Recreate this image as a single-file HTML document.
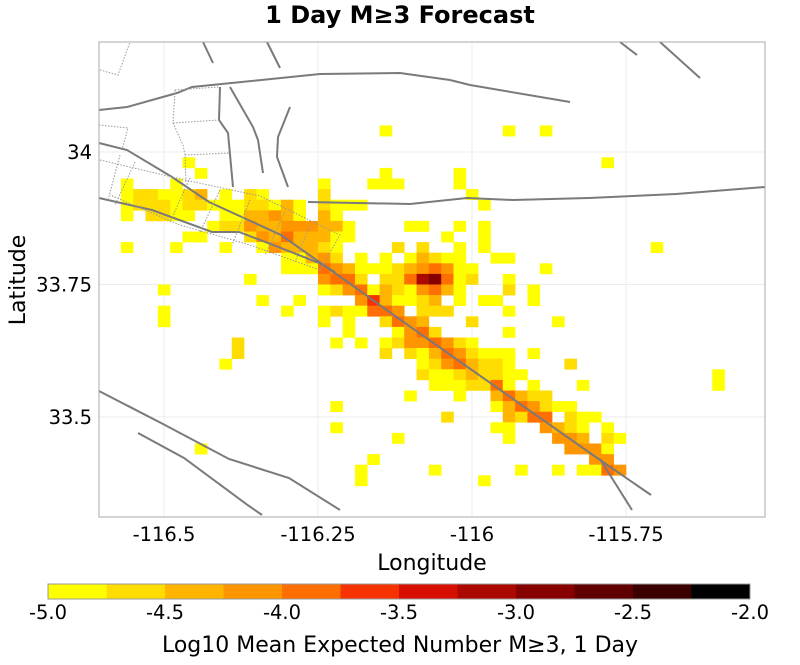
<!DOCTYPE html>
<html><head><meta charset="utf-8"><style>
body{margin:0;background:#fff;}
svg{display:block;font-family:"Liberation Sans","DejaVu Sans",sans-serif;}
</style></head><body>
<svg id="chart" width="800" height="665" viewBox="0 0 800 665">
<text x="400" y="23" text-anchor="middle" font-size="24" font-weight="bold" font-family="DejaVu Sans, sans-serif">1 Day M≥3 Forecast</text>
<g id="grid"></g>
<g id="cells"></g>
<g id="faults" fill="none" stroke="#7a7a7a" stroke-width="2"></g>
<rect x="99" y="42" width="666" height="475" fill="none" stroke="#aaa" stroke-width="1"/>
<g id="xticks"></g>
<g id="yticks"></g>
<text x="432" y="570" text-anchor="middle" font-size="22" font-family="DejaVu Sans, sans-serif">Longitude</text>
<text x="0" y="0" transform="translate(25,280) rotate(-90)" text-anchor="middle" font-size="22" font-family="DejaVu Sans, sans-serif">Latitude</text>
<g id="legend"></g>
<text x="400" y="652" text-anchor="middle" font-size="22" font-family="DejaVu Sans, sans-serif">Log10 Mean Expected Number M≥3, 1 Day</text>
</svg>
<script>
const xTicks = [-116.5, -116.25, -116, -115.75];
const xTickLabels = ["-116.5", "-116.25", "-116", "-115.75"];
const yTicks = [34, 33.75, 33.5];
const yTickLabels = ["34", "33.75", "33.5"];
const colorBins = [-5.0,-4.75,-4.5,-4.25,-4.0,-3.75,-3.5,-3.25,-3.0,-2.75,-2.5,-2.25,-2.0];
const colorBinLabels = ["-5.0","-4.5","-4.0","-3.5","-3.0","-2.5","-2.0"];
const colorBinLabelValues = [-5.0,-4.5,-4.0,-3.5,-3.0,-2.5,-2.0];
const binColors = ["#ffff00","#ffdd00","#ffb400","#ff9600","#ff6e00","#f53200","#d60f00","#ab0800","#860000","#600000","#3a0000","#000000"];
// cell centers (lon, lat) and log10 values
const cellLons = [
-116.14,-115.94,-115.88,
-116.46,-115.78,
-116.44,-116.14,-116.02,
-116.56,-116.48,-116.24,-116.16,-116.14,-116.12,-116.02,
-116.56,-116.54,-116.52,-116.50,-116.48,-116.46,-116.44,-116.40,-116.36,-116.34,-116.24,-116.00,
-116.56,-116.54,-116.52,-116.50,-116.48,-116.46,-116.44,-116.42,-116.40,-116.38,-116.36,-116.34,-116.32,-116.30,-116.28,-116.24,-116.22,-116.20,-116.18,-115.98,
-116.56,-116.52,-116.50,-116.48,-116.46,-116.40,-116.38,-116.36,-116.34,-116.32,-116.30,-116.28,-116.24,-116.22,
-116.42,-116.40,-116.38,-116.36,-116.34,-116.32,-116.30,-116.28,-116.26,-116.24,-116.22,-116.20,-116.10,-116.08,-116.02,-115.98,
-116.46,-116.44,-116.36,-116.34,-116.32,-116.30,-116.28,-116.26,-116.24,-116.22,-116.20,-116.04,-115.98,
-116.56,-116.48,-116.40,-116.34,-116.32,-116.30,-116.28,-116.26,-116.24,-116.22,-116.12,-116.08,-116.02,-115.98,-115.70,
-116.30,-116.28,-116.26,-116.24,-116.22,-116.18,-116.14,-116.10,-116.08,-116.06,-116.04,-116.02,-115.96,-115.94,
-116.30,-116.28,-116.26,-116.24,-116.22,-116.20,-116.18,-116.16,-116.14,-116.12,-116.10,-116.08,-116.06,-116.04,-116.02,-116.00,-115.88,
-116.36,-116.24,-116.22,-116.20,-116.18,-116.14,-116.12,-116.10,-116.08,-116.06,-116.04,-116.02,-116.00,-115.94,
-116.50,-116.24,-116.22,-116.20,-116.18,-116.16,-116.14,-116.12,-116.10,-116.08,-116.06,-116.04,-116.02,-115.94,-115.90,
-116.34,-116.28,-116.18,-116.16,-116.14,-116.12,-116.10,-116.08,-116.06,-116.02,-115.98,-115.96,-115.90,
-116.50,-116.30,-116.24,-116.22,-116.20,-116.18,-116.16,-116.14,-116.12,-116.08,-116.06,-116.04,-115.94,
-116.50,-116.24,-116.20,-116.14,-116.12,-116.10,-116.08,-116.00,-115.86,
-116.20,-116.12,-116.10,-116.08,-116.06,-115.94,
-116.38,-116.22,-116.18,-116.14,-116.12,-116.10,-116.08,-116.06,-116.04,-116.02,-116.00,
-116.38,-116.14,-116.10,-116.08,-116.06,-116.04,-116.02,-116.00,-115.98,-115.96,-115.94,-115.90,
-116.40,-116.08,-116.06,-116.04,-116.02,-116.00,-115.98,-115.96,-115.94,-115.84,
-116.08,-116.06,-116.04,-116.02,-116.00,-115.98,-115.96,-115.94,-115.92,-115.60,
-116.06,-116.04,-116.02,-116.00,-115.98,-115.96,-115.94,-115.90,-115.82,-115.60,
-116.10,-116.02,-115.96,-115.94,-115.92,-115.90,-115.88,
-116.22,-115.96,-115.94,-115.92,-115.90,-115.88,-115.86,-115.84,
-116.04,-115.94,-115.92,-115.90,-115.88,-115.84,-115.82,-115.80,
-116.22,-115.96,-115.94,-115.88,-115.86,-115.84,-115.82,-115.78,
-116.12,-115.94,-115.86,-115.84,-115.82,-115.78,-115.76,
-116.44,-115.84,-115.82,-115.80,-115.78,
-116.16,-115.80,-115.78,
-116.18,-116.06,-115.92,-115.86,-115.82,-115.80,-115.78,-115.76,
-116.18,-115.98
];
const cellLats = [
34.04,34.04,34.04,
33.98,33.98,
33.96,33.96,33.96,
33.94,33.94,33.94,33.94,33.94,33.94,33.94,
33.92,33.92,33.92,33.92,33.92,33.92,33.92,33.92,33.92,33.92,33.92,33.92,
33.90,33.90,33.90,33.90,33.90,33.90,33.90,33.90,33.90,33.90,33.90,33.90,33.90,33.90,33.90,33.90,33.90,33.90,33.90,33.90,
33.88,33.88,33.88,33.88,33.88,33.88,33.88,33.88,33.88,33.88,33.88,33.88,33.88,33.88,
33.86,33.86,33.86,33.86,33.86,33.86,33.86,33.86,33.86,33.86,33.86,33.86,33.86,33.86,33.86,33.86,
33.84,33.84,33.84,33.84,33.84,33.84,33.84,33.84,33.84,33.84,33.84,33.84,33.84,
33.82,33.82,33.82,33.82,33.82,33.82,33.82,33.82,33.82,33.82,33.82,33.82,33.82,33.82,33.82,
33.80,33.80,33.80,33.80,33.80,33.80,33.80,33.80,33.80,33.80,33.80,33.80,33.80,33.80,
33.78,33.78,33.78,33.78,33.78,33.78,33.78,33.78,33.78,33.78,33.78,33.78,33.78,33.78,33.78,33.78,33.78,
33.76,33.76,33.76,33.76,33.76,33.76,33.76,33.76,33.76,33.76,33.76,33.76,33.76,33.76,
33.74,33.74,33.74,33.74,33.74,33.74,33.74,33.74,33.74,33.74,33.74,33.74,33.74,33.74,33.74,
33.72,33.72,33.72,33.72,33.72,33.72,33.72,33.72,33.72,33.72,33.72,33.72,33.72,
33.70,33.70,33.70,33.70,33.70,33.70,33.70,33.70,33.70,33.70,33.70,33.70,33.70,
33.68,33.68,33.68,33.68,33.68,33.68,33.68,33.68,33.68,
33.66,33.66,33.66,33.66,33.66,33.66,
33.64,33.64,33.64,33.64,33.64,33.64,33.64,33.64,33.64,33.64,33.64,
33.62,33.62,33.62,33.62,33.62,33.62,33.62,33.62,33.62,33.62,33.62,33.62,
33.60,33.60,33.60,33.60,33.60,33.60,33.60,33.60,33.60,33.60,
33.58,33.58,33.58,33.58,33.58,33.58,33.58,33.58,33.58,33.58,
33.56,33.56,33.56,33.56,33.56,33.56,33.56,33.56,33.56,33.56,
33.54,33.54,33.54,33.54,33.54,33.54,33.54,
33.52,33.52,33.52,33.52,33.52,33.52,33.52,33.52,
33.50,33.50,33.50,33.50,33.50,33.50,33.50,33.50,
33.48,33.48,33.48,33.48,33.48,33.48,33.48,33.48,
33.46,33.46,33.46,33.46,33.46,33.46,33.46,
33.44,33.44,33.44,33.44,33.44,
33.42,33.42,33.42,
33.40,33.40,33.40,33.40,33.40,33.40,33.40,33.40,
33.38,33.38
];
const cellValues = [
-4.9,-4.9,-4.9,
-4.9,-4.9,
-4.9,-4.9,-4.9,
-4.9,-4.9,-4.9,-4.9,-4.9,-4.9,-4.9,
-4.9,-4.6,-4.6,-4.9,-4.9,-4.6,-4.4,-4.9,-4.6,-4.9,-4.6,-4.9,
-4.9,-4.6,-4.6,-4.6,-4.9,-4.6,-4.6,-4.9,-4.9,-4.9,-4.6,-4.6,-4.9,-4.4,-4.9,-4.6,-4.9,-4.9,-4.9,-4.9,
-4.9,-4.6,-4.6,-4.9,-4.9,-4.9,-4.9,-4.4,-4.4,-4.1,-4.4,-4.9,-4.4,-4.9,
-4.9,-4.6,-4.6,-4.1,-4.4,-4.4,-4.1,-4.1,-4.1,-4.4,-4.4,-4.9,-4.9,-4.9,-4.9,-4.9,
-4.9,-4.9,-4.6,-4.1,-4.4,-3.9,-4.4,-4.4,-4.4,-4.9,-4.9,-4.9,-4.9,
-4.9,-4.9,-4.9,-4.9,-4.1,-4.4,-4.4,-4.4,-4.6,-4.9,-4.6,-4.6,-4.9,-4.9,-4.9,
-4.9,-4.9,-4.4,-4.1,-4.6,-4.9,-4.9,-4.9,-4.4,-4.6,-4.9,-4.9,-4.9,-4.9,
-4.9,-4.9,-4.9,-3.9,-4.1,-4.4,-4.9,-4.9,-4.9,-4.6,-4.4,-4.1,-3.9,-4.1,-4.9,-4.9,-4.9,
-4.9,-4.1,-3.9,-3.9,-4.6,-4.6,-4.6,-3.9,-3.1,-2.9,-3.9,-4.9,-4.6,-4.9,
-4.9,-4.9,-4.6,-4.1,-3.9,-4.9,-4.4,-4.6,-4.9,-4.1,-3.9,-4.4,-4.9,-4.6,-4.9,
-4.9,-4.9,-4.1,-3.6,-4.4,-4.9,-4.9,-4.6,-4.4,-4.9,-4.9,-4.9,-4.9,
-4.9,-4.9,-4.9,-4.6,-4.9,-4.9,-3.9,-3.9,-4.1,-4.6,-4.6,-4.6,-4.9,
-4.9,-4.9,-4.9,-4.6,-3.9,-4.1,-4.4,-4.6,-4.9,
-4.9,-4.9,-4.1,-3.9,-4.6,-4.9,
-4.6,-4.9,-4.9,-4.9,-4.6,-4.1,-4.1,-3.9,-4.1,-4.6,-4.9,
-4.6,-4.6,-4.6,-4.9,-4.4,-3.9,-4.1,-4.6,-4.9,-4.9,-4.9,-4.9,
-4.9,-4.9,-4.6,-4.1,-3.9,-4.4,-4.6,-4.6,-4.9,-4.6,
-4.6,-4.9,-4.9,-4.6,-4.4,-4.6,-4.6,-4.9,-4.9,-4.9,
-4.9,-4.9,-4.9,-4.6,-4.6,-3.9,-4.9,-4.9,-4.9,-4.9,
-4.9,-4.9,-4.4,-3.9,-4.4,-4.6,-4.6,
-4.9,-4.9,-4.4,-3.9,-4.1,-4.6,-4.9,-4.9,
-4.6,-4.4,-4.6,-3.9,-3.9,-4.6,-4.9,-4.9,
-4.9,-4.9,-4.9,-4.1,-4.4,-4.6,-4.9,-4.9,
-4.9,-4.9,-4.1,-4.1,-4.4,-4.6,-4.9,
-4.9,-4.1,-4.1,-4.1,-4.9,
-4.9,-4.1,-4.1,
-4.9,-4.9,-4.9,-4.9,-4.9,-4.9,-3.9,-4.1,
-4.9,-4.9
];

const NS = "http://www.w3.org/2000/svg";
const X0 = 472, PXLON = 616, Y0 = 152, PXLAT = 530;
function xScale(lon){ return X0 + (lon + 116) * PXLON; }
function yScale(lat){ return Y0 - (lat - 34) * PXLAT; }
function colorFor(v){
  for(let i=0;i<binColors.length;i++){ if(v < colorBins[i+1]) return binColors[i]; }
  return binColors[binColors.length-1];
}
function mk(tag, attrs, parent){
  const e = document.createElementNS(NS, tag);
  for(const k in attrs) e.setAttribute(k, attrs[k]);
  parent.appendChild(e); return e;
}
const grid = document.getElementById('grid');
xTicks.forEach(t=>{
  const l = mk('line',{x1:xScale(t),x2:xScale(t),y1:42,y2:517,stroke:'#ececec','stroke-width':1},grid);
  
  
});
yTicks.forEach(t=>{
  const l = mk('line',{x1:99,x2:765,y1:yScale(t),y2:yScale(t),stroke:'#ececec','stroke-width':1},grid);
  
  
});
const cells = document.getElementById('cells');
const dLon = 0.02, dLat = 0.02;
for(let i=0;i<cellValues.length;i++){
  const x1 = Math.max(99, xScale(cellLons[i]-dLon/2)), x2 = Math.min(765, xScale(cellLons[i]+dLon/2));
  const y1 = yScale(cellLats[i]+dLat/2), y2 = yScale(cellLats[i]-dLat/2);
  const r = mk('rect',{x:x1.toFixed(2),y:y1.toFixed(2),width:(x2-x1+0.3).toFixed(2),height:(y2-y1+0.3).toFixed(2),fill:colorFor(cellValues[i])},cells);
  
  
}
const faultPaths = [
 "M99,143 L127,150 L172,177 L209,202 L281,235 L349,283 L395,316 L590,453 L651,495",
 "M600,459 L632,510",
 "M99,198 L152,210 L212,232 L239,232 L281,248 L319,263 L335,272",
 "M308,202 L410,204 L467,198 L513,200 L589,198 L676,194 L765,187",
 "M99,110 L127,107 L177,93 L192,87 L320,74 L400,73 L450,80 L470,85 L570,102",
 "M203,42 L213,63","M267,42 L280,68",
 "M220,87 L219,120 L228,133 L233,187",
 "M230,87 L253,127 L258,140 L263,173",
 "M290,107 L278,137 L277,157 L288,187",
 "M620,42 L637,55","M660,42 L700,78",
 "M99,391 L163,424 L229,459 L289,478 L340,510",
 "M138,433 L184,458 L249,506 L262,515"
];
const faults = document.getElementById('faults');
faultPaths.forEach(d=>{
  const p = mk('path',{d:d},faults);
  
  
});
const dotted = [
 "M100,70 L118,75 L130,42","M175,90 L219,87","M173,123 L219,120","M185,155 L230,153",
 "M175,90 L173,123 L183,145 L185,155 L186,182","M99,125 L128,128 L122,150",
 "M100,160 L185,180 L260,196 L340,235 L320,270 L250,245 L180,225 L110,195",
 "M120,155 L108,200","M135,162 L115,205","M190,178 L170,222","M220,190 L200,232","M250,200 L232,245","M285,212 L265,255","M310,225 L295,262"
];
dotted.forEach(d=>{
  const p = mk('path',{d:d,stroke:'#999','stroke-width':1,'stroke-dasharray':'1.5,1.5',fill:'none'},faults);
  
  
});
const xt = document.getElementById('xticks');
xTicks.forEach((t,i)=>{
  const tx = mk('text',{x:xScale(t),y:541,'text-anchor':'middle','font-size':19.5,'font-family':'DejaVu Sans, sans-serif'},xt);
  tx.textContent = xTickLabels[i];
  
  
});
const yt = document.getElementById('yticks');
yTicks.forEach((t,i)=>{
  const tx = mk('text',{x:92,y:yScale(t)+7,'text-anchor':'end','font-size':19.5,'font-family':'DejaVu Sans, sans-serif'},yt);
  tx.textContent = yTickLabels[i];
  
  
});
const lg = document.getElementById('legend');
const LX0 = 48, LX1 = 750;
function lScale(v){ return LX0 + (v - colorBins[0])/(colorBins[colorBins.length-1]-colorBins[0])*(LX1-LX0); }
binColors.forEach((c,i)=>{
  const r = mk('rect',{x:lScale(colorBins[i]),y:584,width:lScale(colorBins[i+1])-lScale(colorBins[i])+0.5,height:15,fill:c},lg);
  
  
});
const fr = mk('rect',{x:LX0,y:584,width:LX1-LX0,height:15,fill:'none',stroke:'#999','stroke-width':1},lg);


colorBinLabelValues.forEach((v,i)=>{
  const tx = mk('text',{x:lScale(v),y:619,'text-anchor':'middle','font-size':19.5,'font-family':'DejaVu Sans, sans-serif'},lg);
  tx.textContent = colorBinLabels[i];
  
  
});
</script>
</body></html>
